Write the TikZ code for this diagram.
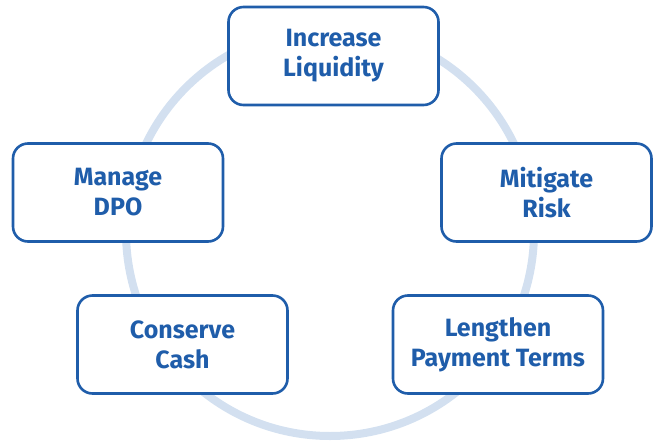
\documentclass[tikz,border=0pt]{standalone}
\usepackage{fontspec}
\setmainfont{Fira Sans}
\definecolor{boxblue}{HTML}{1F5DAA}
\definecolor{ringblue}{HTML}{D3E0F0}
\begin{document}
\begin{tikzpicture}[x=1pt,y=-1pt,
  goalbox/.style={draw=boxblue, line width=2.6pt, rounded corners=15pt, fill=white,
    minimum width=210pt, minimum height=98pt, align=center, text=boxblue,
    font=\fontsize{25}{30}\selectfont\bfseries}]
\useasboundingbox (0,0) rectangle (657,440);
\draw[ringblue, line width=8pt] (330,232) circle [radius=204];
\node[goalbox] (inc) at (333.5,56) {Increase\\Liquidity};
\node[goalbox] (mgr) at (118,192.5) {Manage\\DPO};
\node[goalbox] (mit) at (546.5,192.5) {Mitigate\\Risk};
\node[goalbox] (con) at (182.5,344.5) {Conserve\\Cash};
\node[goalbox] (len) at (498,344.5) {Lengthen\\Payment Terms};
\end{tikzpicture}
\end{document}
